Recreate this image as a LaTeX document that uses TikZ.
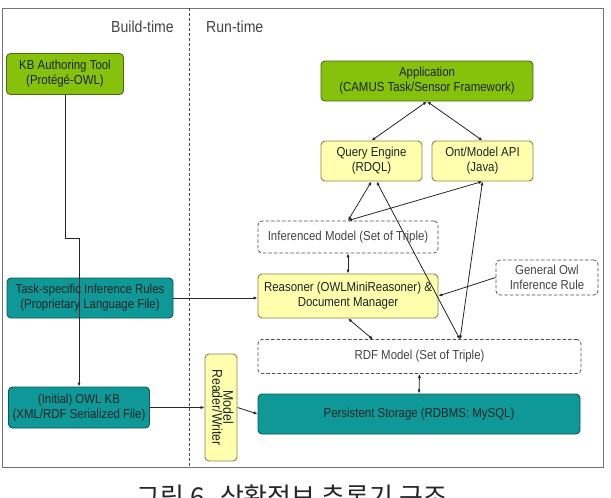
\documentclass[tikz,border=0pt]{standalone}
\usepackage{fontspec}
\setmainfont[FakeStretch=0.88]{Liberation Sans}
\newfontfamily\krfont{Noto Sans CJK KR}
\usetikzlibrary{arrows.meta}
\definecolor{bgreen}{HTML}{86C20C}
\definecolor{bgreenline}{HTML}{4A6A10}
\definecolor{bteal}{HTML}{0E9898}
\definecolor{btealline}{HTML}{0A5858}
\definecolor{byellow}{HTML}{FFFFAE}
\definecolor{byellowline}{HTML}{86864A}
\definecolor{dashline}{HTML}{505050}
\definecolor{txtdark}{HTML}{1A2424}
\definecolor{txtgray}{HTML}{444444}
\begin{document}
\begin{tikzpicture}[x=1pt,y=-1pt,
  every node/.style={font=\fontsize{13}{15}\selectfont, inner sep=1pt, align=center},
  boxbase/.style={rectangle, rounded corners=4pt, line width=0.9pt},
  greenbox/.style={boxbase, fill=bgreen, draw=bgreenline, text=txtdark},
  tealbox/.style={boxbase, fill=bteal, draw=btealline, text=txtdark},
  yellowbox/.style={boxbase, fill=byellow, draw=byellowline, text=txtdark},
  dashbox/.style={rectangle, rounded corners=4pt, draw=dashline, line width=0.8pt,
    dash pattern=on 3.5pt off 2pt, text=txtgray},
  conn/.style={line width=0.8pt, draw=black!85},
  tip/.style={-{Latex[length=4pt,width=3.2pt]}},
  tips/.style={{Latex[length=4pt,width=3.2pt]}-{Latex[length=4pt,width=3.2pt]}},
  phase/.style={font=\fontsize{16}{18}\selectfont, text=txtgray}
]
\useasboundingbox (0,0) rectangle (611,498);
\clip (0,0) rectangle (611,498);
\fill[white] (0,0) rectangle (611,498);

% frame and divider
\draw[line width=1pt, draw=black!55] (2,8) rectangle (603,467);
\coordinate (divtop) at (189,8);
\coordinate (divbot) at (189,467);
\draw[line width=0.8pt, draw=black!70, dash pattern=on 3pt off 2pt] (divtop) -- (divbot);

\node[phase, anchor=east] (build) at (175,27) {Build-time};
\node[phase, anchor=west] (run) at (205,27) {Run-time};

% build-time boxes
\node[greenbox, minimum width=117pt, minimum height=41pt] (kb) at (65,74) {KB Authoring Tool\\(Protégé-OWL)};
\node[tealbox, minimum width=166pt, minimum height=40pt] (task) at (90,298) {Task-specific Inference Rules\\(Proprietary Language File)};
\node[tealbox, minimum width=141pt, minimum height=41pt] (init) at (79,407.5) {(Initial) OWL KB\\(XML/RDF Serialized File)};
\node[yellowbox, minimum width=32pt, minimum height=107pt] (mrw) at (221,407.5) {\rotatebox{-90}{\fontsize{14}{13}\selectfont\begin{tabular}{@{}c@{}}Model\\[-3pt]Reader/Writer\end{tabular}}};

% run-time boxes
\node[greenbox, minimum width=212pt, minimum height=40pt] (app) at (427,81) {Application\\(CAMUS Task/Sensor Framework)};
\node[yellowbox, minimum width=101pt, minimum height=40pt] (qe) at (371.5,161) {Query Engine\\(RDQL)};
\node[yellowbox, minimum width=101pt, minimum height=40pt] (ont) at (482.5,161) {Ont/Model API\\(Java)};
\node[dashbox, minimum width=180pt, minimum height=32pt] (inf) at (348,237) {Inferenced Model (Set of Triple)};
\node[yellowbox, minimum width=180pt, minimum height=44pt] (reas) at (348,296) {Reasoner (OWLMiniReasoner) \&\\Document Manager};
\node[dashbox, minimum width=102pt, minimum height=35pt] (gen) at (547,277.5) {General Owl\\Inference Rule};
\node[dashbox, minimum width=323pt, minimum height=34pt] (rdf) at (419.5,356.5) {RDF Model (Set of Triple)};
\node[tealbox, minimum width=322pt, minimum height=40pt] (ps) at (419,414) {Persistent Storage (RDBMS: MySQL)};

% connectors
\coordinate (jog) at (79,238);
\draw[conn, tip] (kb.south) |- (jog) -| (init.north);
\draw[conn, tip] (task.east) -- (task.east -| reas.west);
\draw[conn, tip] (init.east) -- (init.east -| mrw.west);
\draw[conn, tip] (mrw.east) -- (ps.west);
\draw[conn, tips] (rdf.south) -- (ps.north);
\draw[conn, tips] (inf.south) -- (reas.north);
\draw[conn, tip] (gen.west) -- (reas.east);
\draw[conn, tips] (app.south) -- (qe.north);
\draw[conn, tips] (app.south) -- (ont.north);
\draw[conn, tips] (qe.south) -- (inf.north);
\draw[conn, tips] (ont.south) -- (inf.north);
\coordinate (rdftop) at (460,339.5);
\coordinate (rdfleft) at (373,339.5);
\draw[conn, tips] ([xshift=5pt]qe.south) -- (rdftop);
\draw[conn, tips] (ont.south) -- (rdftop);
\draw[conn, tips] (reas.south) -- (rdfleft);

% caption (cut at the lower edge as in the reference)
\node[font=\krfont\fontsize{26}{28}\selectfont, text=black!85, anchor=base] (cap) at (292,506) {그림 6. 상황정보 추론기 구조};
\end{tikzpicture}
\end{document}
